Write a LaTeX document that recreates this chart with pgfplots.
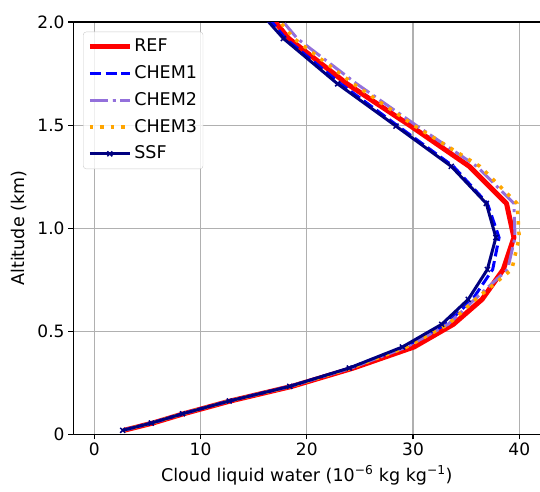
\documentclass[border=0pt]{standalone}
\usepackage{fontspec}
\setmainfont{DejaVu Sans}
\usepackage{pgfplots}
\pgfplotsset{compat=1.18}
\definecolor{mplpurple}{HTML}{9370DB}
\definecolor{mplorange}{HTML}{FFA500}
\definecolor{mplnavy}{HTML}{000080}
\definecolor{mplblue}{HTML}{0000FF}
\definecolor{mplred}{HTML}{FF0000}
\definecolor{gridgray}{HTML}{B0B0B0}
\definecolor{legframe}{HTML}{CCCCCC}
\begin{document}
\begin{tikzpicture}
\begin{axis}[
  name=ax,
  scale only axis, width=467bp, height=412bp,
  xmin=-2, xmax=42, ymin=0, ymax=2,
  xtick={0,10,20,30,40}, xticklabels={0,10,20,30,40},
  ytick={0,0.5,1,1.5,2}, yticklabels={0,0.5,1.0,1.5,2.0},
  grid=major, major grid style={gridgray, line width=1.1bp},
  tick align=outside, xtick pos=left, ytick pos=left,
  major tick length=5bp,
  tick style={black, line width=1.1bp},
  axis line style={line width=1.1bp},
  every tick label/.append style={font=\fontsize{17bp}{20bp}\selectfont},
  label style={font=\fontsize{17.5bp}{21bp}\selectfont},
  xlabel={Cloud liquid water (10\textsuperscript{−6} kg kg\textsuperscript{−1})},
  ylabel={Altitude (km)},
  xlabel style={yshift=-3bp},
  ylabel style={yshift=4bp},
  legend image code/.code={\draw[mark repeat=2,mark phase=2,#1] plot coordinates {(0bp,0bp) (20bp,0bp) (40bp,0bp)};},
  legend cell align=left,
  legend style={at={(0.0214,0.9765)}, anchor=north west,
    draw=legframe, rounded corners=3bp, fill=white, fill opacity=0.8, text opacity=1,
    font=\fontsize{17.5bp}{21bp}\selectfont,
    nodes={text height=13bp, text depth=3bp, inner sep=2bp},
    row sep=6.7bp, inner xsep=4bp, inner ysep=5bp},
  line join=round,
]
\addplot[mplred, line width=5bp] coordinates {
(2.8,0.02) (5.5,0.055) (8.4,0.10) (12.8,0.162) (18.6,0.233) (24.4,0.322) (30.1,0.424) (33.8,0.534) (36.5,0.655) (38.5,0.80) (39.5,0.955) (38.8,1.12) (35.3,1.30) (29.8,1.495) (23.8,1.70) (18.3,1.92) (14.8,2.14)};
\addlegendentry{REF}
\addplot[mplblue, line width=3bp, dash pattern=on 11bp off 4.8bp] coordinates {
(2.7,0.02) (5.4,0.055) (8.3,0.10) (12.7,0.162) (18.4,0.233) (24.1,0.322) (29.2,0.424) (33.1,0.534) (35.6,0.655) (37.5,0.80) (38.1,0.955) (37.0,1.12) (33.8,1.30) (28.6,1.495) (23.2,1.70) (18.0,1.92) (14.5,2.14)};
\addlegendentry{CHEM1}
\addplot[mplpurple, line width=3bp, dash pattern=on 18bp off 4.8bp on 3bp off 4.8bp] coordinates {
(2.7,0.02) (5.4,0.055) (8.3,0.10) (12.7,0.162) (18.5,0.233) (24.2,0.322) (29.4,0.424) (33.3,0.534) (35.8,0.655) (38.9,0.80) (39.6,0.955) (39.5,1.12) (36.0,1.30) (30.4,1.495) (24.7,1.70) (19.1,1.92) (15.5,2.14)};
\addlegendentry{CHEM2}
\addplot[mplorange, line width=3.5bp, dash pattern=on 3.5bp off 7bp] coordinates {
(2.7,0.02) (5.4,0.055) (8.3,0.10) (12.7,0.162) (18.5,0.233) (24.2,0.322) (29.4,0.424) (33.3,0.534) (35.9,0.655) (39.3,0.80) (40.0,0.955) (39.8,1.12) (36.3,1.30) (30.2,1.495) (24.4,1.70) (18.8,1.92) (15.2,2.14)};
\addlegendentry{CHEM3}
\addplot[mplnavy, line width=3bp, mark=x, mark size=3.5bp, mark options={solid, line width=1.5bp}] coordinates {
(2.67,0.02) (5.37,0.055) (8.3,0.10) (12.7,0.162) (18.4,0.233) (24.0,0.322) (29.0,0.424) (32.7,0.534) (35.2,0.655) (37.0,0.80) (37.8,0.955) (36.9,1.12) (33.6,1.30) (28.4,1.495) (22.9,1.70) (17.8,1.92) (14.0,2.14)};
\addlegendentry{SSF}
\end{axis}
\pgfresetboundingbox
\path[use as bounding box] ([xshift=-73bp,yshift=-57bp]ax.south west) rectangle ([xshift=-0.5bp,yshift=22bp]ax.north east);
\end{tikzpicture}
\end{document}
